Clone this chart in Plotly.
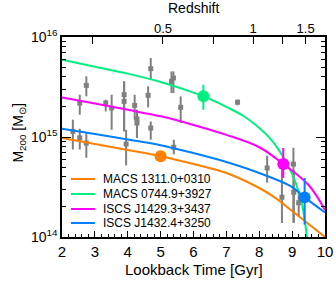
import plotly.graph_objects as go

SCALE = 1e15  # masses below in units of 1e15 Msun

# ---- model curves (lookback time [Gyr], M200 [1e15 Msun]) ----
orange_t = [2.0, 3.0, 4.0, 5.0, 6.0, 7.0, 8.0, 8.5, 9.0, 9.5, 10.0]
orange_m = [0.977, 0.851, 0.741, 0.643, 0.537, 0.436, 0.309, 0.245, 0.182, 0.135, 0.100]

green_t = [2.0, 3.0, 4.0, 5.0, 6.0, 6.3, 6.7, 7.0, 7.5, 8.0, 8.3, 8.6, 8.9, 9.1, 9.3, 9.45]
green_m = [5.93, 5.05, 4.30, 3.55, 2.78, 2.55, 2.24, 2.00, 1.64, 1.23, 0.99, 0.74, 0.50, 0.355, 0.214, 0.100]

pink_t = [2.0, 3.0, 4.0, 5.0, 6.0, 7.0, 8.0, 8.73, 9.5, 10.0]
pink_m = [2.49, 2.16, 1.87, 1.61, 1.32, 1.05, 0.79, 0.537, 0.331, 0.186]

blue_t = [2.0, 3.0, 4.0, 5.0, 6.0, 7.0, 8.0, 9.0, 9.38, 10.0]
blue_m = [1.21, 1.07, 0.944, 0.828, 0.69, 0.562, 0.436, 0.316, 0.249, 0.176]

# ---- highlighted clusters ----
names = ["MACS 1311.0+0310", "MACS 0744.9+3927", "ISCS J1429.3+3437", "ISCS J1432.4+3250"]
colors = ["#FF8000", "#00F080", "#FF00FF", "#0080FF"]
dot_t = [5.00, 6.30, 8.73, 9.38]
dot_m = [0.643, 2.55, 0.537, 0.249]
dot_hi = [0.643, 3.33, 0.776, 0.39]
dot_lo = [0.643, 1.87, 0.39, 0.133]

# ---- comparison sample (gray) ----
gray_t = [4.70, 2.74, 2.54, 3.33, 3.51, 3.89, 3.89, 4.21, 4.28, 4.28, 4.62, 4.70, 2.33,
          2.54, 2.74, 3.95, 5.33, 5.39, 5.61, 5.40, 7.34, 8.24, 8.69, 9.04, 9.05, 9.20]
gray_m = [4.82, 3.28, 2.19, 2.19, 1.95, 2.65, 2.27, 2.07, 1.52, 1.38, 2.61, 1.23, 1.14,
          0.98, 0.87, 0.85, 3.60, 3.89, 1.98, 0.79, 2.23, 0.49, 0.25, 0.535, 0.28, 0.22]
gray_hi = [6.17, 4.04, 2.65, 2.36, 2.65, 3.60, 3.60, 2.65, 1.87, 1.87, 3.21, 1.43, 1.49,
           1.21, 1.10, 1.18, 4.53, 4.53, 2.55, 0.94, 2.36, 0.65, 0.55, 0.78, 0.47, 0.287]
gray_lo = [3.74, 2.55, 1.67, 1.80, 1.18, 1.14, 1.14, 1.49, 0.98, 0.98, 1.98, 0.94, 0.75,
           0.75, 0.62, 0.52, 2.75, 2.75, 1.38, 0.67, 2.07, 0.35, 0.138, 0.139, 0.139, 0.16]

# ---- axes ticks ----
x_ticks = [2, 3, 4, 5, 6, 7, 8, 9, 10]
z_tick_lookback = [2.93, 5.07, 6.61, 7.81, 8.71, 9.41]
z_tick_text = ["", "0.5", "", "1", "", "1.5"]
y_tick_vals = [1e14, 1e15, 1e16]
y_tick_text = ["10<sup>14</sup>", "10<sup>15</sup>", "10<sup>16</sup>"]

FONT = "Liberation Sans, Arial, sans-serif"

fig = go.Figure()

# gray points
fig.add_trace(go.Scatter(
    x=gray_t, y=[m * SCALE for m in gray_m], mode="markers",
    marker=dict(symbol="square", size=5, color="#808080"),
    error_y=dict(type="data", symmetric=False,
                 array=[(h - m) * SCALE for h, m in zip(gray_hi, gray_m)],
                 arrayminus=[(m - l) * SCALE for l, m in zip(gray_lo, gray_m)],
                 color="#808080", thickness=2, width=0),
    showlegend=False, hoverinfo="skip"))

curves = [(orange_t, orange_m), (green_t, green_m), (pink_t, pink_m), (blue_t, blue_m)]
for (ct, cm), name, col in zip(curves, names, colors):
    fig.add_trace(go.Scatter(
        x=ct, y=[m * SCALE for m in cm], mode="lines", name=name,
        line=dict(color=col, width=2, shape="spline", smoothing=1.0),
        showlegend=False))

for i in range(4):
    fig.add_trace(go.Scatter(
        x=[dot_t[i]], y=[dot_m[i] * SCALE], mode="markers",
        marker=dict(size=12, color=colors[i]),
        error_y=dict(type="data", symmetric=False,
                     array=[(dot_hi[i] - dot_m[i]) * SCALE],
                     arrayminus=[(dot_m[i] - dot_lo[i]) * SCALE],
                     color=colors[i], thickness=2, width=0),
        showlegend=False, hoverinfo="skip"))

# dummy (empty) trace to bind the top axis
fig.add_trace(go.Scatter(x=[], y=[], xaxis="x2", yaxis="y", showlegend=False))

# manual legend (line samples + labels)
shapes = []
annotations = []
leg_y = [0.29, 0.215, 0.14, 0.07]
for name, col, yy in zip(names, colors, leg_y):
    shapes.append(dict(type="line", xref="paper", yref="paper",
                       x0=0.034, x1=0.125, y0=yy, y1=yy,
                       line=dict(color=col, width=2)))
    annotations.append(dict(text=name, xref="paper", yref="paper", x=0.148, y=yy,
                            xanchor="left", yanchor="middle", showarrow=False,
                            font=dict(size=12, family=FONT, color="black")))

# axis titles as annotations for exact placement
annotations.append(dict(text="Lookback Time [Gyr]", xref="paper", yref="paper",
                        x=0.5, y=-0.16, xanchor="center", yanchor="middle",
                        showarrow=False, font=dict(size=15, family=FONT)))
annotations.append(dict(text="Redshift", xref="paper", yref="paper",
                        x=0.5, y=1.145, xanchor="center", yanchor="middle",
                        showarrow=False, font=dict(size=14, family=FONT)))
annotations.append(dict(text="M<sub>200</sub> [M<sub>⊙</sub>]", xref="paper", yref="paper",
                        x=-0.165, y=0.52, xanchor="center", yanchor="middle",
                        textangle=-90, showarrow=False, font=dict(size=14, family=FONT)))

fig.update_layout(
    width=336, height=281,
    margin=dict(l=62, r=11, t=37, b=44, autoexpand=False),
    paper_bgcolor="white", plot_bgcolor="white",
    font=dict(family=FONT, size=13, color="black"),
    showlegend=False,
    shapes=shapes, annotations=annotations,
    xaxis=dict(range=[2, 10], tickvals=x_ticks, ticks="inside", ticklen=6,
               tickwidth=1, tickcolor="black",
               minor=dict(ticks="inside", ticklen=3, dtick=0.2, tickcolor="black"),
               showline=True, linecolor="black", linewidth=1.5, mirror=True,
               showgrid=False, zeroline=False, automargin=False,
               tickfont=dict(size=15)),
    xaxis2=dict(range=[2, 10], overlaying="x", side="top", anchor="y",
                tickmode="array", tickvals=z_tick_lookback, ticktext=z_tick_text,
                ticks="inside", ticklen=7, tickcolor="black",
                showgrid=False, zeroline=False, showline=False, automargin=False,
                tickfont=dict(size=13)),
    yaxis=dict(type="log", range=[14, 16], tickvals=y_tick_vals, ticktext=y_tick_text,
               ticks="inside", ticklen=9, tickcolor="black",
               minor=dict(ticks="inside", ticklen=4, tickcolor="black",
                          tickvals=[k * 10 ** e for e in (14, 15) for k in range(2, 10)]),
               showline=True, linecolor="black", linewidth=1.5, mirror="ticks",
               showgrid=False, zeroline=False, automargin=False,
               tickfont=dict(size=14)),
)

fig.write_html("out.html", config={"displayModeBar": False},
               post_script="document.body.style.margin='0';")
